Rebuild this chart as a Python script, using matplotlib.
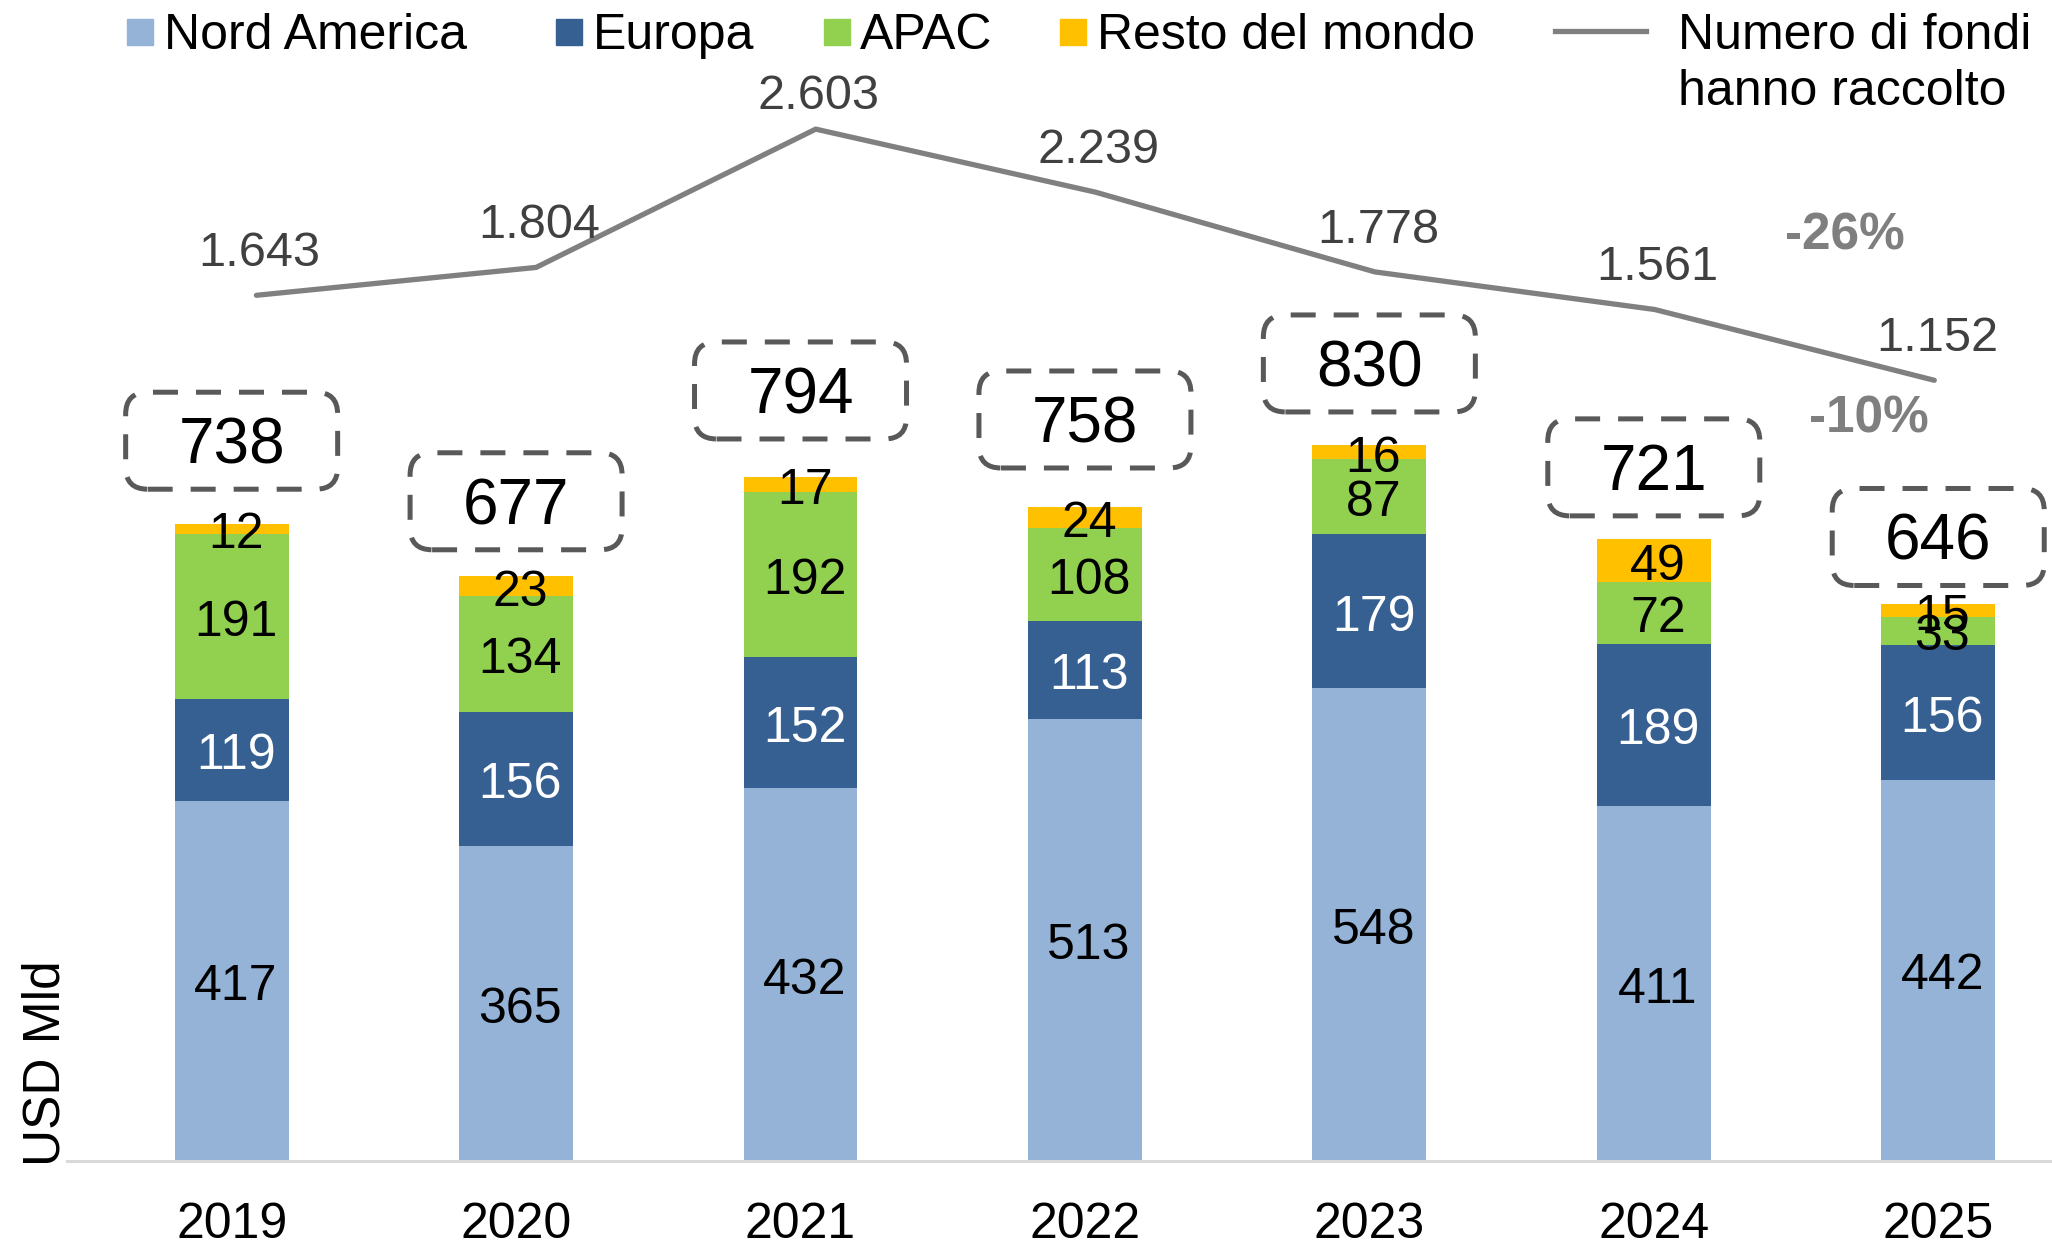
import matplotlib
matplotlib.use('Agg')
import matplotlib.pyplot as plt
from matplotlib.patches import FancyBboxPatch, Rectangle
from matplotlib.lines import Line2D
from matplotlib.transforms import ScaledTranslation
import numpy as np

plt.rcParams['font.family'] = ['Liberation Sans', 'DejaVu Sans']

# data
years = ['2019', '2020', '2021', '2022', '2023', '2024', '2025']
nord_america = [417, 365, 432, 513, 548, 411, 442]
europa = [119, 156, 152, 113, 179, 189, 156]
apac = [191, 134, 192, 108, 87, 72, 33]
resto = [12, 23, 17, 24, 16, 49, 15]
totali = [738, 677, 794, 758, 830, 721, 646]
num_fondi = [1643, 1804, 2603, 2239, 1778, 1561, 1152]
series_names = ['Nord America', 'Europa', 'APAC', 'Resto del mondo']
line_name = 'Numero di fondi'
line_name2 = 'hanno raccolto'
var_fondi = '-26%'
var_totali = '-10%'

colors = ['#95B3D7', '#366092', '#92D050', '#FFC000']
label_colors = ['black', 'white', 'black', 'black']

W, H = 2052, 1247
fig = plt.figure(figsize=(W / 100, H / 100), dpi=100)

def fx(px):
    return px / W

def fy(py):
    return 1 - py / H

ax = fig.add_axes([0.0325, 0.0693, 0.9675, 0.9307])
x = np.arange(len(years))
bottom = np.zeros(len(years))
for vals, c, lc in zip([nord_america, europa, apac, resto], colors, label_colors):
    bars = ax.bar(x, vals, 0.4, bottom=bottom, color=c, zorder=2)
    anns = ax.bar_label(bars, labels=[str(v) for v in vals], label_type='center',
                        color=lc, fontsize=36)
    for a in anns:
        a.xyann = (3, -4.5)
    bottom += np.array(vals)

ax.set_xlim(-0.58, 6.40)
ax.set_ylim(0, 1347)
ax.set_xticks(x)
ax.set_xticklabels(years, fontsize=36)
ax.tick_params(axis='x', length=0, pad=30)
ax.set_yticks([])
for s in ['top', 'right', 'left']:
    ax.spines[s].set_visible(False)
ax.spines['bottom'].set_color('#D9D9D9')
ax.spines['bottom'].set_linewidth(2.2)

# dashed boxes with totals (offsets in px above bar top)
box_off = [84, 76, 86, 88, 82, 72, 67]
bw, bh = 2.12, 0.97
for i, tot in enumerate(totali):
    off = box_off[i] / 100
    tr = fig.dpi_scale_trans + ScaledTranslation(i, tot, ax.transData)
    box = FancyBboxPatch((-bw / 2, off - bh / 2), bw, bh,
                         boxstyle='round,pad=0,rounding_size=0.22',
                         transform=tr, fc='none', ec='#595959', lw=3.6,
                         ls=(0, (5, 3.6)), clip_on=False, zorder=4)
    fig.add_artist(box)
    ax.annotate(str(tot), xy=(i, tot), xytext=(0, (box_off[i] - 23) * 0.72),
                textcoords='offset points', ha='center', va='baseline',
                fontsize=46, color='black', annotation_clip=False)

# line on its own axes
ax2 = fig.add_axes(ax.get_position(), frameon=False)
ax2.plot(x, num_fondi, color='#808080', lw=3.8, solid_capstyle='round', zorder=3)
ax2.set_xlim(-0.6785, 6.421)
ax2.set_ylim(-3356, 3349)
ax2.axis('off')
lab_off = [29, 29, 20, 29, 29, 29, 29]
for i, v in enumerate(num_fondi):
    ax2.annotate(f'{v:,}'.replace(',', '.'), xy=(i, v),
                 xytext=(3 * 0.72, lab_off[i] * 0.72), textcoords='offset points',
                 ha='center', va='baseline', fontsize=35, color='#404040',
                 annotation_clip=False)

fig.text(fx(1845), fy(236), var_fondi, ha='center', va='center', fontsize=37,
         fontweight='bold', color='#7F7F7F')
fig.text(fx(1869), fy(419), var_totali, ha='center', va='center', fontsize=37,
         fontweight='bold', color='#7F7F7F')

fig.text(fx(46), fy(1063), 'USD Mld', rotation=90, ha='center', va='center',
         fontsize=37, color='black')

# legend drawn by hand
sq_x = [127, 556, 824, 1060]
txt_x = [164, 593, 860, 1097]
for name, c, sx, tx in zip(series_names, colors, sq_x, txt_x):
    fig.add_artist(Rectangle((fx(sx), fy(45)), fx(26), 26 / H, color=c,
                             transform=fig.transFigure))
    fig.text(fx(tx), fy(49), name, ha='left', va='baseline', fontsize=36,
             color='black')
fig.add_artist(Line2D([fx(1555), fx(1646)], [fy(31), fy(31)], color='#808080',
                      lw=3.8, transform=fig.transFigure))
fig.text(fx(1678), fy(49), line_name, ha='left', va='baseline', fontsize=36,
         color='black')
fig.text(fx(1678), fy(105), line_name2, ha='left', va='baseline', fontsize=36,
         color='black')

fig.savefig('out.png', dpi=100)
